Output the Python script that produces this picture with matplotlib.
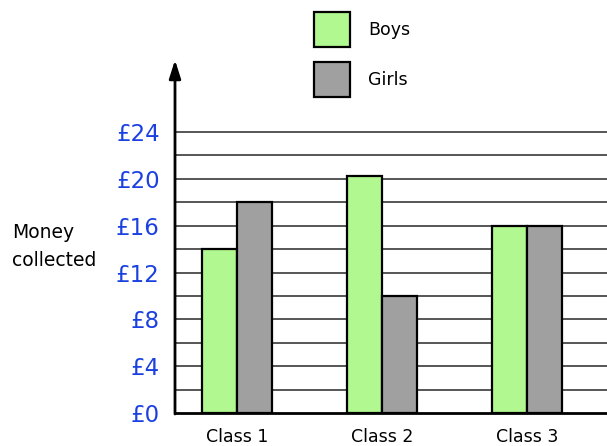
import numpy as np
import matplotlib.pyplot as plt
from matplotlib.patches import Rectangle

classes = ["Class 1", "Class 2", "Class 3"]
series = ["Boys", "Girls"]
boys = [14, 20.2, 16]
girls = [18, 10, 16]
yticks = [0, 4, 8, 12, 16, 20, 24]
ytick_labels = ["£0", "£4", "£8", "£12", "£16", "£20", "£24"]
colors = ["#b0f88f", "#a0a0a0"]

W, H = 607, 446
fig = plt.figure(figsize=(W / 100, H / 100), dpi=100)
ax = fig.add_axes([175 / W, (H - 413) / H, 1 - 175 / W, (413 - 132) / H])

x = np.arange(len(classes))
w = 0.24
ax.bar(x - w / 2, boys, w, color=colors[0], edgecolor="black", linewidth=1.6, zorder=3)
ax.bar(x + w / 2, girls, w, color=colors[1], edgecolor="black", linewidth=1.6, zorder=3)

for yv in range(2, 25, 2):
    ax.axhline(yv, color="#3a3a3a", linewidth=1.2, zorder=1, clip_on=False)

ax.set_xlim(-0.428, 2.552)
ax.set_ylim(0, 24)
ax.set_yticks(yticks)
ax.set_yticklabels(ytick_labels, color="#1a40e0", fontsize=16.5)
ax.tick_params(axis="y", length=0, pad=11)
ax.set_xticks(x)
ax.set_xticklabels(classes, fontsize=12.5)
ax.tick_params(axis="x", length=0, pad=11)

for s in ["top", "right", "left"]:
    ax.spines[s].set_visible(False)
ax.spines["bottom"].set_linewidth(2)
ax.spines["bottom"].set_zorder(4)

# y axis with arrow
ax.annotate("", xy=(175 / W, (H - 60) / H), xytext=(175 / W, (H - 414) / H),
            xycoords="figure fraction",
            arrowprops=dict(arrowstyle="-|>,head_width=0.35,head_length=1.1",
                            color="black", lw=2, shrinkA=0, shrinkB=0))

fig.text(12 / W, (H - 232) / H, "Money", fontsize=13.5, va="center", ha="left")
fig.text(12 / W, (H - 260) / H, "collected", fontsize=13.5, va="center", ha="left")

# legend
for i, name in enumerate(series):
    y0 = 12 + i * 50
    fig.add_artist(Rectangle((314 / W, (H - y0 - 35) / H), 36 / W, 35 / H,
                             transform=fig.transFigure, facecolor=colors[i],
                             edgecolor="black", linewidth=1.6))
    fig.text(368 / W, (H - y0 - 18) / H, name, fontsize=12.5, va="center", ha="left")

fig.savefig("out.png", dpi=100)
